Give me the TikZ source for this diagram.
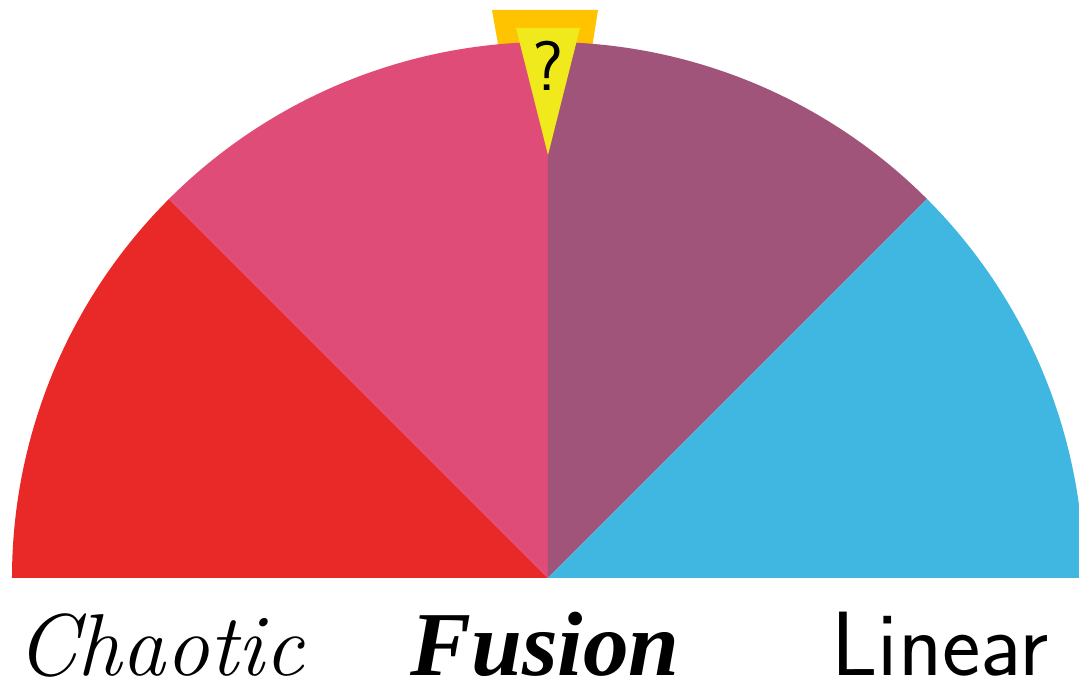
\documentclass[tikz,border=0pt]{standalone}
\usepackage{fontspec}
\newfontfamily\boldserif{Liberation Serif}
\definecolor{chaosred}{RGB}{233,41,40}
\definecolor{rosepink}{RGB}{224,76,120}
\definecolor{plum}{RGB}{160,84,122}
\definecolor{skyblue}{RGB}{64,183,225}
\definecolor{pointerorange}{RGB}{255,195,0}
\definecolor{pointeryellow}{RGB}{240,234,28}
\begin{document}
\begin{tikzpicture}[
  x=0.02cm, y=0.02cm,
  label text/.style={anchor=base, inner sep=0pt, text depth=0pt, font=\fontsize{52}{60}\selectfont}
]
  \useasboundingbox (-548,-117) rectangle (531,578);
  \coordinate (c) at (0,0);
  % pointer behind the dial
  \fill[pointerorange] (-56,568) -- (50,568) -- (0,250) -- cycle;
  % dial sectors
  \fill[chaosred] (c) -- (180:536) arc (180:135:536) -- cycle;
  \fill[rosepink] (c) -- (135:536) arc (135:90:536) -- cycle;
  \fill[plum] (c) -- (90:536) arc (90:45:536) -- cycle;
  \fill[skyblue] (c) -- (45:536) arc (45:0:536) -- cycle;
  % pointer tip
  \fill[pointeryellow] (-32,550) -- (32,550) -- (0,423) -- cycle;
  \node[font=\fontsize{40}{44}\selectfont\sffamily, inner sep=0pt] (mark) at (0,512) {?};
  % labels
  \node[label text, font=\itshape\fontsize{50}{60}\selectfont] (chaotic) at (-388,-98) {Chaotic};
  \node[label text, font=\boldserif\bfseries\itshape\fontsize{52}{60}\selectfont] (fusion) at (-3,-98) {Fusion};
  \node[label text, font=\sffamily\fontsize{52}{60}\selectfont] (linear) at (392,-98) {Linear};
\end{tikzpicture}
\end{document}
